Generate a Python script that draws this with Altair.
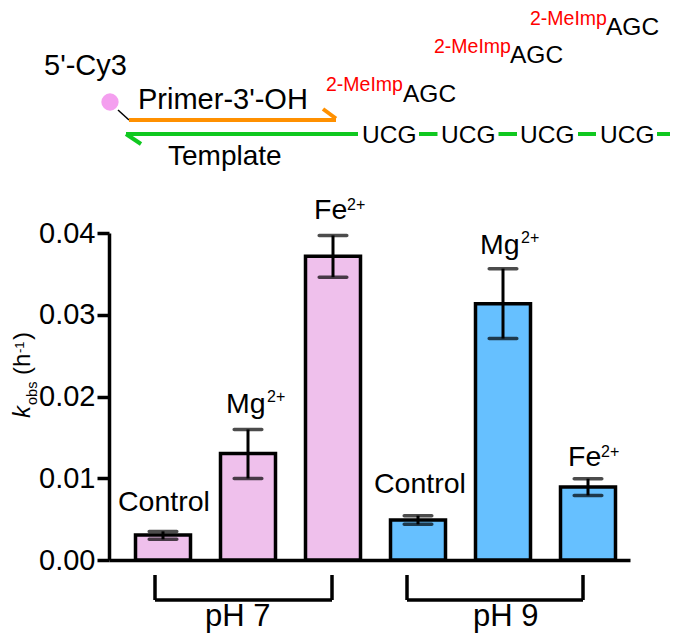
import altair as alt
import pandas as pd

FONT = "Liberation Sans"

# ---- bar data
positions = [1, 2, 3, 4, 5, 6]
conditions = ["pH 7", "pH 7", "pH 7", "pH 9", "pH 9", "pH 9"]
metals = ["Control", "Mg", "Fe", "Control", "Mg", "Fe"]
kobs = [0.00305, 0.01303, 0.03715, 0.00489, 0.03136, 0.00892]
err_low = [0.00253, 0.00998, 0.0346, 0.00436, 0.02709, 0.0079]
err_high = [0.0035, 0.01597, 0.0397, 0.00542, 0.03564, 0.00994]
y_ticks = [0.0, 0.01, 0.02, 0.03, 0.04]


# ---- picture position -> data units, for annotations
def xd(px):
    return 1 + (px - 163) / 85


def yd(py):
    return (560 - py) / 327 * 0.04


# ---- annotation text: text, left, baseline, size, colour
labels = [
    ("Control", 118, 511, 28.5, "black"),
    ("Mg", 226, 413, 28.5, "black"),
    ("2+", 267, 402, 16, "black"),
    ("Fe", 314, 219, 28.5, "black"),
    ("2+", 347, 210, 16, "black"),
    ("Control", 374, 493, 28.5, "black"),
    ("Mg", 480, 254, 28.5, "black"),
    ("2+", 521, 243, 16, "black"),
    ("Fe", 568, 466, 28.5, "black"),
    ("2+", 601, 457, 16, "black"),
    ("pH 7", 205, 626, 31, "black"),
    ("pH 9", 473, 626, 31, "black"),
    ("5'-Cy3", 44, 75, 29, "black"),
    ("Primer-3'-OH", 138, 109, 29, "black"),
    ("Template", 168, 165, 28, "black"),
    ("UCG", 362, 143, 24.5, "black"),
    ("UCG", 441, 143, 24.5, "black"),
    ("UCG", 520, 143, 24.5, "black"),
    ("UCG", 600, 143, 24.5, "black"),
    ("2-MeImp", 326, 91, 19.5, "#FF0000"),
    ("AGC", 403, 102, 24.5, "black"),
    ("2-MeImp", 434, 53, 19.5, "#FF0000"),
    ("AGC", 510, 63, 24.5, "black"),
    ("2-MeImp", 530, 25, 19.5, "#FF0000"),
    ("AGC", 606, 35, 24.5, "black"),
]

# ---- rotated y title pieces: text, baseline x, start y, size
title_italic = [("k", 30, 418, 24)]
title_parts = [
    ("obs", 37, 405, 14.5),
    ("(h", 30, 375, 24),
    ("-1", 24, 353, 13),
    (")", 30, 340, 24),
]

# ---- line segments: x1, y1, x2, y2, width, colour
segments = [
    (155, 575, 155, 600, 3.5, "black"),
    (155, 600, 332, 600, 3.5, "black"),
    (332, 575, 332, 600, 3.5, "black"),
    (407, 575, 407, 600, 3.5, "black"),
    (407, 600, 583, 600, 3.5, "black"),
    (583, 575, 583, 600, 3.5, "black"),
    (118, 110, 129, 120, 1.5, "black"),
    (129, 120, 336, 120, 4, "#FF9000"),
    (323, 109, 336, 118.5, 4, "#FF9000"),
    (126, 134, 358, 134, 4, "#10C820"),
    (126, 134, 141, 144, 4, "#10C820"),
    (419, 134, 437.5, 134, 4, "#10C820"),
    (498.5, 134, 517, 134, 4, "#10C820"),
    (578, 134, 596, 134, 4, "#10C820"),
    (657, 134, 678, 134, 4, "#10C820"),
]

dye_x = [110]
dye_y = [102]


def placed(rows, cols):
    df = pd.DataFrame(rows, columns=cols)
    df["x"] = df.px.map(xd)
    df["y"] = df.py.map(yd)
    return df


# ---- tables
bars = pd.DataFrame(dict(pos=positions, cond=conditions, metal=metals, k=kobs, lo=err_low, hi=err_high))
text_df = placed(labels, ["t", "px", "py", "size", "color"])
title_df = placed(title_parts, ["t", "px", "py", "size"])
italic_df = placed(title_italic, ["t", "px", "py", "size"])
seg_df = pd.DataFrame(segments, columns=["a", "b", "c", "d", "w", "color"])
seg_df["x"] = seg_df.a.map(xd)
seg_df["y"] = seg_df.b.map(yd)
seg_df["x2"] = seg_df.c.map(xd)
seg_df["y2"] = seg_df.d.map(yd)
dye_df = pd.DataFrame(dict(x=[xd(v) for v in dye_x], y=[yd(v) for v in dye_y]))

x_scale = alt.Scale(domain=[xd(109), xd(630)], nice=False, zero=False, padding=0)
y_scale = alt.Scale(domain=[0, 0.04], nice=False)

X = alt.X("pos:Q", scale=x_scale, axis=alt.Axis(labels=False, ticks=False, grid=False, title=None,
                                                domainColor="black", domainWidth=3.5))
Y = alt.Y("k:Q", scale=y_scale, axis=alt.Axis(values=y_ticks, format=".2f", grid=False, title=None,
                                             domainColor="black", domainWidth=3.5, tickColor="black",
                                             tickWidth=3.5, tickSize=12, labelPadding=2, labelFontSize=29,
                                             labelFont=FONT, labelColor="black"))

bar_layer = alt.Chart(bars).mark_bar(size=55, stroke="black", strokeWidth=3.5).encode(
    x=X, y=Y,
    fill=alt.Fill("cond:N", scale=alt.Scale(domain=["pH 7", "pH 9"], range=["#EFC0EC", "#66C0FF"]), legend=None),
)
err_layer = alt.Chart(bars).mark_rule(color="black", strokeWidth=3).encode(
    x=alt.X("pos:Q", scale=x_scale), y=alt.Y("lo:Q", scale=y_scale), y2="hi:Q"
)
cap_lo = alt.Chart(bars).mark_tick(color="black", orient="horizontal", size=31, thickness=3.5, cornerRadius=2).encode(
    x=alt.X("pos:Q", scale=x_scale), y=alt.Y("lo:Q", scale=y_scale)
)
cap_hi = alt.Chart(bars).mark_tick(color="black", orient="horizontal", size=31, thickness=3.5, cornerRadius=2).encode(
    x=alt.X("pos:Q", scale=x_scale), y=alt.Y("hi:Q", scale=y_scale)
)
seg_layer = alt.Chart(seg_df).mark_rule().encode(
    x=alt.X("x:Q", scale=x_scale), x2="x2:Q",
    y=alt.Y("y:Q", scale=y_scale), y2="y2:Q",
    size=alt.Size("w:Q", scale=None),
    color=alt.Color("color:N", scale=None),
)
dye_layer = alt.Chart(dye_df).mark_point(filled=True, opacity=1, size=300, color="#F49FEF", shape="circle").encode(
    x=alt.X("x:Q", scale=x_scale), y=alt.Y("y:Q", scale=y_scale)
)
text_layer = alt.Chart(text_df).mark_text(align="left", baseline="alphabetic", font=FONT).encode(
    x=alt.X("x:Q", scale=x_scale), y=alt.Y("y:Q", scale=y_scale),
    text="t:N",
    size=alt.Size("size:Q", scale=None),
    color=alt.Color("color:N", scale=None),
)
title_layer = alt.Chart(title_df).mark_text(align="left", baseline="alphabetic", font=FONT, angle=270, color="black").encode(
    x=alt.X("x:Q", scale=x_scale), y=alt.Y("y:Q", scale=y_scale),
    text="t:N",
    size=alt.Size("size:Q", scale=None),
)
italic_layer = alt.Chart(italic_df).mark_text(align="left", baseline="alphabetic", font=FONT, angle=270, color="black", fontStyle="italic").encode(
    x=alt.X("x:Q", scale=x_scale), y=alt.Y("y:Q", scale=y_scale),
    text="t:N",
    size=alt.Size("size:Q", scale=None),
)

chart = alt.layer(bar_layer, err_layer, cap_lo, cap_hi, seg_layer, dye_layer, text_layer, title_layer, italic_layer).properties(
    width=521, height=327,
    padding={"left": 101, "top": 225, "right": 40, "bottom": 73},
    autosize=alt.AutoSizeParams(type="none"),
    background="white",
).configure_view(stroke=None)

chart.save("out.html", embed_options={"renderer": "svg", "actions": False})
